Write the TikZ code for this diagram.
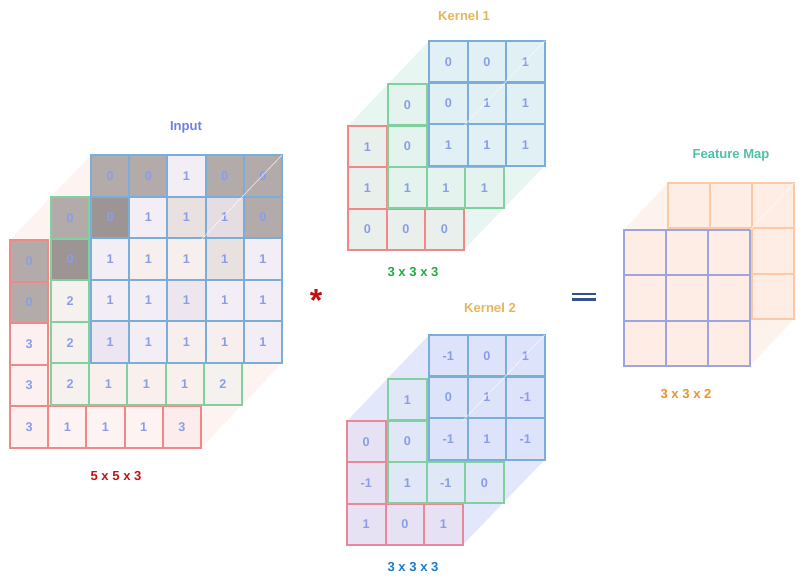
\documentclass[tikz,border=0pt]{standalone}
\usepackage{fontspec}
\setmainfont{Liberation Sans}
\usetikzlibrary{backgrounds}
% text colours
\definecolor{numc}{HTML}{8A9EE8}
\definecolor{cInput}{HTML}{6F80E0}
\definecolor{cRed}{HTML}{C0141C}
\definecolor{cKern}{HTML}{E8B55A}
\definecolor{cGreen}{HTML}{22AA44}
\definecolor{cBlue}{HTML}{1A7CC8}
\definecolor{cFeat}{HTML}{50C0A8}
\definecolor{cOrange}{HTML}{E8922A}
\definecolor{cStar}{HTML}{C01010}
\definecolor{cEq}{HTML}{34508E}
% borders
\definecolor{bB}{HTML}{7AAED8}
\definecolor{bG}{HTML}{80D0A0}
\definecolor{bR}{HTML}{F08888}
\definecolor{bR2}{HTML}{E88898}
\definecolor{bO}{HTML}{FCC9A4}
\definecolor{bP}{HTML}{9EA4DE}
% input fills
\definecolor{gry}{HTML}{B3ABA9}
\definecolor{dgry}{HTML}{9D9593}
\definecolor{lav}{HTML}{F3EEF6}
\definecolor{lavp}{HTML}{F7EEEE}
\definecolor{bge}{HTML}{E9E1DF}
\definecolor{bge2}{HTML}{E5DDE2}
\definecolor{bge3}{HTML}{E8E1E0}
\definecolor{lav2}{HTML}{EEE6EE}
\definecolor{lav3}{HTML}{EBE6F2}
\definecolor{gl}{HTML}{F4F1EE}
\definecolor{gl2}{HTML}{F9F0EE}
\definecolor{rl}{HTML}{FDF0F0}
\definecolor{rl2}{HTML}{FDF3F2}
\definecolor{rl3}{HTML}{FCECEC}
\definecolor{inS}{HTML}{FDF3F0}
% kernel fills
\definecolor{kOb}{HTML}{E0F0F4}
\definecolor{kOg}{HTML}{E4F3EE}
\definecolor{kOr}{HTML}{E9EFEB}
\definecolor{kOs}{HTML}{E8F6F1}
\definecolor{kTb}{HTML}{DDE3FA}
\definecolor{kTg}{HTML}{E0E7F6}
\definecolor{kTr}{HTML}{E7E2F3}
\definecolor{kTs}{HTML}{E2E7FC}
% feature fills
\definecolor{fF}{HTML}{FDEDE4}
\definecolor{fS}{HTML}{FDF2EC}
\newcommand\cellfont{\fontsize{9.5}{11}\selectfont\bfseries}
\newcommand\labfont{\fontsize{9.8}{12}\selectfont\bfseries}
\begin{document}
\begin{tikzpicture}[x=0.75pt,y=-0.75pt,
  cellbase/.style={draw, line width=1.5pt, inner sep=0pt, outer sep=0pt, anchor=north west, font=\cellfont, text=numc},
  incell/.style={cellbase, minimum width=28.65pt, minimum height=31.2pt},
  kcell/.style={cellbase, minimum width=28.9pt, minimum height=31.1pt},
  fcell/.style={cellbase, minimum width=31.5pt, minimum height=34pt},
  lab/.style={font=\labfont, inner sep=0pt},
  diag/.style={draw=white, opacity=0.7, line width=0.5pt}]
\useasboundingbox (0,0) rectangle (806,585);

% ---------- Input ----------
\foreach \r/\c/\v/\f in {0/0/0/gry, 1/0/0/gry, 2/0/3/rl, 3/0/3/rl, 4/0/3/rl, 4/1/1/rl2, 4/2/1/rl2, 4/3/1/rl2, 4/4/3/rl3}
  \node[incell, draw=bR, fill=\f] (inr-\r-\c) at ({10+\c*38.2},{240+\r*41.6}) {\v};
\foreach \r/\c/\v/\f in {0/0/0/gry, 1/0/0/dgry, 2/0/2/gl, 3/0/2/gl, 4/0/2/gl, 4/1/1/gl2, 4/2/1/gl2, 4/3/1/gl2, 4/4/2/gl}
  \node[incell, draw=bG, fill=\f] (ing-\r-\c) at ({51+\c*38.2},{197+\r*41.6}) {\v};
\foreach \r/\c/\v/\f in {0/0/0/gry, 0/1/0/gry, 0/2/1/lav, 0/3/0/gry, 0/4/0/gry,
  1/0/0/dgry, 1/1/1/lav, 1/2/1/bge, 1/3/1/bge2, 1/4/0/gry,
  2/0/1/lav, 2/1/1/lavp, 2/2/1/lavp, 2/3/1/bge3, 2/4/1/lav,
  3/0/1/lav, 3/1/1/lav, 3/2/1/lav2, 3/3/1/lav, 3/4/1/lav,
  4/0/1/lav3, 4/1/1/lav, 4/2/1/lavp, 4/3/1/lavp, 4/4/1/lav}
  \node[incell, draw=bB, fill=\f] (inb-\r-\c) at ({91+\c*38.2},{155+\r*41.6}) {\v};
\draw[diag] (inb-0-4.north east) -- (inr-4-4.north east |- inr-0-0.north east);

% ---------- Kernel 1 ----------
\foreach \r/\c/\v in {0/0/1, 1/0/1, 2/0/0, 2/1/0, 2/2/0}
  \node[kcell, draw=bR, fill=kOr] (kar-\r-\c) at ({348+\c*38.5},{126+\r*41.3}) {\v};
\foreach \r/\c/\v in {0/0/0, 1/0/0, 2/0/1, 2/1/1, 2/2/1}
  \node[kcell, draw=bG, fill=kOg] (kag-\r-\c) at ({388+\c*38.5},{84+\r*41.5}) {\v};
\foreach \r/\c/\v in {0/0/0, 0/1/0, 0/2/1, 1/0/0, 1/1/1, 1/2/1, 2/0/1, 2/1/1, 2/2/1}
  \node[kcell, draw=bB, fill=kOb] (kab-\r-\c) at ({429+\c*38.5},{41+\r*41.7}) {\v};
\draw[diag] (kab-0-2.north east) -- (kar-2-2.north east |- kar-0-0.north east);

% ---------- Kernel 2 ----------
\foreach \r/\c/\v in {0/0/0, 1/0/-1, 2/0/1, 2/1/0, 2/2/1}
  \node[kcell, draw=bR2, fill=kTr] (kbr-\r-\c) at ({347+\c*38.5},{421+\r*41.3}) {\v};
\foreach \r/\c/\v in {0/0/1, 1/0/0, 2/0/1, 2/1/-1, 2/2/0}
  \node[kcell, draw=bG, fill=kTg] (kbg-\r-\c) at ({388+\c*38.5},{379+\r*41.5}) {\v};
\foreach \r/\c/\v in {0/0/-1, 0/1/0, 0/2/1, 1/0/0, 1/1/1, 1/2/-1, 2/0/-1, 2/1/1, 2/2/-1}
  \node[kcell, draw=bB, fill=kTb] (kbb-\r-\c) at ({429+\c*38.5},{335+\r*41.7}) {\v};
\draw[diag] (kbb-0-2.north east) -- (kbr-2-2.north east |- kbr-0-0.north east);

% ---------- Feature map ----------
\foreach \r/\c in {0/0, 0/1, 0/2, 1/2, 2/2}
  \node[fcell, draw=bO, fill=fF] (fb-\r-\c) at ({668+\c*42},{183+\r*45.3}) {};
\foreach \r in {0,1,2} \foreach \c in {0,1,2}
  \node[fcell, draw=bP, fill=fF] (fr-\r-\c) at ({624+\c*42},{230+\r*45.3}) {};
\draw[diag] (fb-0-2.north east) -- (fr-0-2.north east);

% ---------- shadows ----------
\begin{pgfonlayer}{background}
  \fill[white] (0,0) rectangle (806,585);
  \fill[inS] (inr-0-0.north west) -- (inb-0-0.north west) -- (inb-0-4.north east)
     -- (inb-4-4.south east) -- (inr-4-4.south east) -- (inr-4-0.south west) -- cycle;
  \fill[kOs] (kar-0-0.north west) -- (kab-0-0.north west) -- (kab-0-2.north east)
     -- (kab-2-2.south east) -- (kar-2-2.south east) -- (kar-2-0.south west) -- cycle;
  \fill[kTs] (kbr-0-0.north west) -- (kbb-0-0.north west) -- (kbb-0-2.north east)
     -- (kbb-2-2.south east) -- (kbr-2-2.south east) -- (kbr-2-0.south west) -- cycle;
  \fill[fS] (fr-0-0.north west) -- (fb-0-0.north west) -- (fb-0-2.north east)
     -- (fb-2-2.south east) -- (fr-2-2.south east) -- (fr-2-0.south west) -- cycle;
\end{pgfonlayer}

% ---------- labels ----------
\node[lab, text=cInput] (tIn) at (186,127) {Input};
\node[lab, text=cRed] (dIn) at (116,476) {5 x 5 x 3};
\node[lab, text=cKern] (tK1) at (464,16) {Kernel 1};
\node[lab, text=cGreen] (dK1) at (413,272) {3 x 3 x 3};
\node[lab, text=cKern] (tK2) at (490,308) {Kernel 2};
\node[lab, text=cBlue] (dK2) at (413,567) {3 x 3 x 3};
\node[lab, text=cFeat] (tF) at (731,155) {Feature Map};
\node[lab, text=cOrange] (dF) at (686,394) {3 x 3 x 2};
\node[inner sep=0pt, anchor=north, text=cStar, font=\fontsize{24}{24}\selectfont\bfseries] (star) at (316,289) {*};
\coordinate (eqA) at (572,294);
\coordinate (eqB) at (596,294);
\coordinate (eqC) at (572,299.5);
\coordinate (eqD) at (596,299.5);
\draw[cEq, line width=2.2pt] (eqA) -- (eqB);
\draw[cEq, line width=2.2pt] (eqC) -- (eqD);
\end{tikzpicture}
\end{document}
